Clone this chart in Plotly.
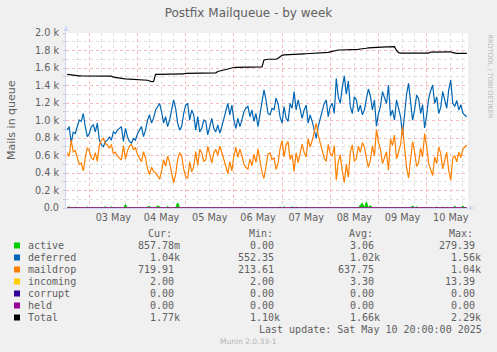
import plotly.graph_objects as go
import pandas as pd

# ---------------- data (hourly samples) ----------------
start_time = "2025-05-02 13:00"

deferred = [
    890, 930, 740, 870, 850, 930, 1005, 990, 1080, 930,
    815, 850, 930, 950, 870, 970, 780, 720, 700, 760,
    775, 815, 775, 870, 850, 890, 910, 930, 760, 910,
    815, 760, 740, 795, 775, 850, 890, 930, 815, 890,
    1005, 1065, 970, 1025, 1120, 1160, 1195, 1100, 970, 1045,
    930, 1005, 1120, 1235, 1140, 970, 890, 930, 1080, 1175,
    1195, 1005, 1120, 1065, 890, 1045, 870, 910, 1005, 990,
    835, 930, 1025, 910, 870, 950, 855, 930, 1025, 1120,
    1195, 1065, 1175, 1005, 910, 1025, 930, 1005, 1100, 1140,
    1160, 1045, 1120, 990, 1080, 930, 1080, 1195, 1350, 1235,
    1080, 1065, 1140, 1120, 1255, 1195, 1045, 970, 1160, 1025,
    990, 1195, 1140, 1330, 1120, 1235, 1140, 1025, 1120, 1175,
    970, 1065, 990, 890, 795, 930, 1025, 1120, 1195, 1235,
    1045, 1160, 1195, 1080, 1480, 1270, 1195, 1380, 1510, 1300,
    1450, 1160, 1080, 1270, 1235, 1100, 1175, 1065, 1120, 1250,
    1360, 1280, 1120, 1235, 935, 1080, 1160, 1330, 1260, 1195,
    1406, 1050, 1120, 1005, 1235, 1120, 1045, 834, 1100, 1300,
    1425, 1195, 1005, 1120, 1290, 1250, 1080, 1180, 914, 1060,
    1250, 1340, 1406, 1195, 1270, 1080, 1150, 1330, 1220, 1140,
    1350, 1463, 1200, 1160, 1230, 1120, 1180, 1090, 1060, 1043,
]

maildrop = [
    633, 589, 775, 641, 658, 576, 500, 514, 424, 574,
    689, 653, 573, 553, 633, 532, 717, 776, 796, 736,
    721, 682, 726, 621, 639, 595, 571, 547, 713, 560,
    654, 707, 725, 668, 687, 611, 570, 529, 644, 568,
    450, 382, 469, 416, 403, 363, 328, 423, 553, 478,
    593, 518, 403, 288, 383, 553, 633, 593, 447, 359,
    339, 529, 414, 469, 644, 489, 670, 630, 535, 550,
    705, 610, 515, 630, 670, 605, 706, 637, 550, 463,
    394, 530, 424, 596, 693, 578, 673, 598, 503, 463,
    443, 558, 483, 613, 523, 673, 523, 412, 337, 460,
    615, 630, 555, 575, 440, 512, 680, 770, 585, 722,
    758, 554, 610, 421, 632, 518, 614, 730, 637, 583,
    789, 695, 771, 872, 968, 833, 739, 644, 570, 531,
    728, 620, 592, 713, 319, 531, 606, 421, 291, 501,
    351, 641, 721, 531, 566, 707, 637, 748, 695, 571,
    465, 547, 711, 596, 896, 751, 677, 507, 577, 642,
    431, 787, 717, 834, 560, 650, 720, 931, 665, 465,
    340, 570, 760, 645, 475, 515, 685, 585, 851, 705,
    515, 437, 371, 582, 507, 697, 627, 447, 557, 637,
    427, 317, 570, 597, 527, 637, 577, 667, 697, 720,
]

total = [
    1528, 1524, 1520, 1516, 1513, 1511, 1510, 1509, 1509, 1509,
    1509, 1508, 1508, 1508, 1508, 1507, 1502, 1501, 1501, 1501,
    1501, 1502, 1506, 1496, 1494, 1490, 1486, 1482, 1478, 1475,
    1474, 1472, 1470, 1468, 1467, 1466, 1465, 1464, 1464, 1463,
    1460, 1452, 1444, 1446, 1528, 1528, 1528, 1528, 1528, 1528,
    1528, 1528, 1528, 1528, 1528, 1528, 1528, 1528, 1532, 1539,
    1539, 1539, 1539, 1539, 1539, 1539, 1545, 1545, 1545, 1545,
    1545, 1545, 1545, 1545, 1545, 1560, 1566, 1572, 1580, 1588,
    1594, 1600, 1604, 1606, 1608, 1608, 1608, 1608, 1608, 1608,
    1608, 1608, 1608, 1608, 1608, 1608, 1608, 1612, 1692, 1700,
    1700, 1700, 1700, 1700, 1700, 1712, 1730, 1745, 1750, 1752,
    1753, 1754, 1755, 1756, 1757, 1758, 1759, 1760, 1762, 1763,
    1764, 1765, 1766, 1767, 1768, 1768, 1769, 1769, 1770, 1771,
    1778, 1785, 1792, 1798, 1804, 1806, 1806, 1806, 1806, 1806,
    1806, 1806, 1806, 1806, 1806, 1812, 1817, 1818, 1820, 1826,
    1830, 1832, 1836, 1836, 1836, 1836, 1842, 1842, 1842, 1842,
    1842, 1842, 1842, 1844, 1800, 1775, 1770, 1770, 1770, 1770,
    1770, 1770, 1770, 1770, 1770, 1770, 1770, 1770, 1770, 1770,
    1770, 1782, 1782, 1782, 1782, 1782, 1782, 1782, 1782, 1782,
    1782, 1785, 1775, 1768, 1768, 1768, 1768, 1768, 1768, 1768,
]

# active queue: mostly empty, short spikes (hour index -> value)
active_spike_hours = [1, 4, 10, 19, 22, 29, 40, 41, 45, 46, 50, 55, 87, 106, 108,
                      112, 114, 119, 146, 147, 149, 151, 172, 174, 184, 187, 189, 193, 197, 199]
active_spike_values = [15, 10, 12, 15, 12, 40, 12, 18, 25, 15, 18, 60, 10, 12, 15,
                       15, 12, 10, 35, 55, 70, 30, 25, 15, 12, 10, 10, 20, 25, 0.86]

N = len(deferred)
incoming = [2.0] * N
corrupt = [0.0] * N
held = [0.0] * N

series_names = ["active", "deferred", "maildrop", "incoming", "corrupt", "held", "Total"]
series_colors = ["#00CC00", "#0066B3", "#FF8000", "#FFCC00", "#330099", "#990099", "#000000"]
stat_headers = ["Cur:", "Min:", "Avg:", "Max:"]
stat_cur = ["857.78m", "1.04k", "719.91", "2.00", "0.00", "0.00", "1.77k"]
stat_min = ["0.00", "552.35", "213.61", "2.00", "0.00", "0.00", "1.10k"]
stat_avg = ["3.06", "1.02k", "637.75", "3.30", "0.00", "0.00", "1.66k"]
stat_max = ["279.39", "1.56k", "1.04k", "13.39", "0.00", "0.00", "2.29k"]

y_tickvals = [0, 200, 400, 600, 800, 1000, 1200, 1400, 1600, 1800, 2000]
x_range = ["2025-05-02 12:24", "2025-05-10 20:36"]

title_text = "Postfix Mailqueue - by week"
y_title = "Mails in queue"
last_update = "Last update: Sat May 10 20:00:00 2025"
watermark = "Munin 2.0.33-1"
side_text = "RRDTOOL / TOBI OETIKER"

# ---------------- build ----------------
times = pd.date_range(start_time, periods=N, freq="h")
active = [0.0] * N
for h, v in zip(active_spike_hours, active_spike_values):
    active[h] = v

W, H = 497, 352
PL, PR, PT, PB = 66, 468, 33, 208


def px_x(x):
    return (x - PL) / (PR - PL)


def px_y(y):
    return (PB - y) / (PB - PT)


FONT = "DejaVu Sans"
MONO = "DejaVu Sans Mono"
TXT = "#606060"
MAJ_GRID = "#F5B8B8"
MIN_GRID = "#DEDEDE"

fig = go.Figure()
data_series = [active, deferred, maildrop, incoming, corrupt, held, total]
for name, col, vals in zip(series_names, series_colors, data_series):
    kw = {}
    if name == "active":
        kw = dict(fill="tozeroy", fillcolor=col)
    fig.add_trace(go.Scatter(
        x=times, y=vals, mode="lines", name=name,
        line=dict(color=col, width=1.2 if name != "active" else 1),
        hoverinfo="skip", showlegend=False, **kw))

y_ticktext = ["0.0" if v == 0 else f"{v/1000:.1f} k" for v in y_tickvals]

fig.update_layout(
    width=W, height=H,
    margin=dict(l=PL, r=W - PR, t=PT, b=H - PB),
    paper_bgcolor="#F0F0F0", plot_bgcolor="#FFFFFF",
    showlegend=False,
    title=dict(text=title_text, x=0.5, xref="container", xanchor="center",
               y=1 - 13 / H, yref="container", yanchor="middle",
               font=dict(family=FONT, size=12, color=TXT)),
    xaxis=dict(
        type="date", range=x_range,
        tick0="2025-05-03", dtick=86400000, tickformat="%d %b",
        ticklabelmode="period",
        showgrid=True, gridcolor=MAJ_GRID, griddash="dot", gridwidth=1,
        minor=dict(tick0="2025-05-03", dtick=6 * 3600000, showgrid=True,
                   gridcolor=MIN_GRID, griddash="dot", gridwidth=1),
        showline=True, linecolor="#CFD6F8", linewidth=1, layer="below traces",
        zeroline=False, ticks="",
        tickfont=dict(family=FONT, size=9.7, color=TXT),
    ),
    yaxis=dict(
        range=[0, 2000], tickmode="array", tickvals=y_tickvals, ticktext=y_ticktext,
        showgrid=True, gridcolor=MAJ_GRID, griddash="dot", gridwidth=1,
        minor=dict(tickmode="linear", tick0=0, dtick=100, showgrid=True,
                   gridcolor=MIN_GRID, griddash="dot", gridwidth=1,
                   ticks="outside", ticklen=2, tickcolor="#C8C8C8"),
        ticks="outside", ticklen=2, tickcolor="#C8C8C8",
        showline=True, linecolor="#CFD6F8", linewidth=1, layer="below traces",
        zeroline=False, ticklabelstandoff=2,
        tickfont=dict(family=FONT, size=9.7, color=TXT),
    ),
)

ann = []
shapes = []
# y axis title
ann.append(dict(x=px_x(11), y=px_y(120), xref="paper", yref="paper", text=y_title,
                textangle=-90, showarrow=False, xanchor="center", yanchor="middle",
                font=dict(family=FONT, size=11, color=TXT)))
# side text
ann.append(dict(x=px_x(489.5), y=px_y(76), xref="paper", yref="paper", text=side_text,
                textangle=90, showarrow=False, xanchor="center", yanchor="middle",
                font=dict(family=FONT, size=6.5, color="#B8B8B8")))

# axis arrows
arrow_col = "#CFD6F8"
shapes.append(dict(type="path", xref="paper", yref="paper", line=dict(width=0),
                   fillcolor=arrow_col,
                   path=f"M {px_x(63.5)} {px_y(31)} L {px_x(68.5)} {px_y(31)} L {px_x(66)} {px_y(25.5)} Z"))
shapes.append(dict(type="path", xref="paper", yref="paper", line=dict(width=0),
                   fillcolor=arrow_col,
                   path=f"M {px_x(469)} {px_y(205.5)} L {px_x(469)} {px_y(210.5)} L {px_x(474.5)} {px_y(208)} Z"))

# legend table
CW = 6.04
row_y0, row_dy = 245.5, 12.0
col_right = [182.0, 282.0, 382.0, 483.0]
head_left = [145.5, 246.5, 346.5, 447.0]
for hx, htxt in zip(head_left, stat_headers):
    ann.append(dict(x=px_x(hx), y=px_y(233.5), xref="paper", yref="paper", text=htxt,
                    showarrow=False, xanchor="left", yanchor="middle",
                    font=dict(family=MONO, size=10, color=TXT)))
cols = [stat_cur, stat_min, stat_avg, stat_max]
for i, (name, col) in enumerate(zip(series_names, series_colors)):
    yy = row_y0 + i * row_dy
    shapes.append(dict(type="rect", xref="paper", yref="paper",
                       x0=px_x(14), x1=px_x(20), y0=px_y(yy - 3), y1=px_y(yy + 3),
                       fillcolor=col, line=dict(width=0)))
    ann.append(dict(x=px_x(26.2), y=px_y(yy), xref="paper", yref="paper", text=name,
                    showarrow=False, xanchor="left", yanchor="middle",
                    font=dict(family=MONO, size=10, color=TXT)))
    for cr, colvals in zip(col_right, cols):
        v = colvals[i]
        xr = cr if v[-1].isalpha() else cr - CW
        ann.append(dict(x=px_x(xr), y=px_y(yy), xref="paper", yref="paper", text=v,
                        showarrow=False, xanchor="right", yanchor="middle",
                        font=dict(family=MONO, size=10, color=TXT)))

ann.append(dict(x=px_x(484), y=px_y(329.5), xref="paper", yref="paper", text=last_update,
                showarrow=False, xanchor="right", yanchor="middle",
                font=dict(family=MONO, size=10, color=TXT)))
ann.append(dict(x=px_x(248), y=px_y(341), xref="paper", yref="paper", text=watermark,
                showarrow=False, xanchor="center", yanchor="middle",
                font=dict(family=FONT, size=7.5, color="#B4B4B4")))

fig.update_layout(annotations=ann, shapes=shapes)
fig.write_html("out.html")
